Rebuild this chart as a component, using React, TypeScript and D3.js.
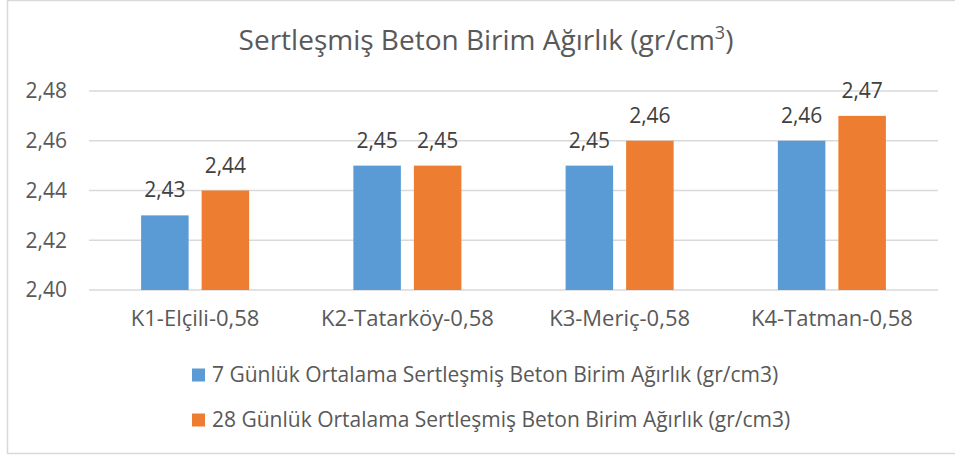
import { useEffect, useRef } from 'react'
import * as d3 from 'd3'

// Categories (mixes) and the two series
const CATEGORIES = ['K1-Elçili-0,58', 'K2-Tatarköy-0,58', 'K3-Meriç-0,58', 'K4-Tatman-0,58']
const SERIES_NAMES = [
  '7 Günlük Ortalama Sertleşmiş Beton Birim Ağırlık (gr/cm3)',
  '28 Günlük Ortalama Sertleşmiş Beton Birim Ağırlık (gr/cm3)',
]
const DAY7 = [2.43, 2.45, 2.45, 2.46]
const DAY28 = [2.44, 2.45, 2.46, 2.47]
const Y_TICKS = [2.40, 2.42, 2.44, 2.46, 2.48]

const COLORS = ['#5B9BD5', '#ED7D31']
const TEXT = '#595959'
const GRID = '#D9D9D9'
const FONT = '"Open Sans", "Noto Sans", sans-serif'

const fmt = (v: number) => v.toFixed(2).replace('.', ',')

const App = () => {
  const svgRef = useRef<SVGSVGElement>(null)

  useEffect(() => {
    if (!svgRef.current) return
    const svg = d3.select(svgRef.current)
    svg.selectAll('*').remove()

    const width = 955
    const height = 457
    const plot = { left: 89, right: 938, top: 91, bottom: 290 }

    // chart area border (right edge runs off the picture)
    svg.append('rect')
      .attr('x', 7.5).attr('y', 0.5)
      .attr('width', 965).attr('height', 453)
      .attr('fill', '#fff')
      .attr('stroke', GRID)
      .attr('stroke-width', 1.5)

    // title
    const title = svg.append('text')
      .attr('x', 486).attr('y', 50)
      .attr('text-anchor', 'middle')
      .attr('font-family', FONT)
      .attr('font-size', 28)
      .attr('fill', TEXT)
    title.append('tspan').text('Sertleşmiş Beton Birim Ağırlık (gr/cm')
    title.append('tspan').attr('font-size', 18).attr('dy', -11).text('3')
    title.append('tspan').attr('dy', 11).text(')')

    const y = d3.scaleLinear().domain([2.40, 2.48]).range([plot.bottom, plot.top])
    const x0 = d3.scaleBand<string>()
      .domain(CATEGORIES)
      .range([plot.left, plot.right])
      .paddingInner(0.491)
      .paddingOuter(0.2455)
    const x1 = d3.scaleBand<number>()
      .domain([0, 1])
      .range([0, x0.bandwidth()])
      .paddingInner(0.215)

    // gridlines + y tick labels
    const g = svg.append('g')
    g.selectAll('.grid')
      .data(Y_TICKS)
      .enter()
      .append('line')
      .attr('x1', plot.left).attr('x2', plot.right)
      .attr('y1', d => y(d)).attr('y2', d => y(d))
      .attr('stroke', GRID)
      .attr('stroke-width', 1.5)

    g.selectAll('.ytick')
      .data(Y_TICKS)
      .enter()
      .append('text')
      .attr('x', 67)
      .attr('y', d => y(d))
      .attr('dy', '0.35em')
      .attr('text-anchor', 'end')
      .attr('font-family', FONT)
      .attr('font-size', 21)
      .attr('fill', TEXT)
      .text(d => fmt(d))

    // bars
    const series = [DAY7, DAY28]
    series.forEach((vals, si) => {
      const bars = svg.append('g')
      bars.selectAll('rect')
        .data(vals)
        .enter()
        .append('rect')
        .attr('x', (d, i) => (x0(CATEGORIES[i]) || 0) + (x1(si) || 0))
        .attr('y', d => y(d))
        .attr('width', x1.bandwidth())
        .attr('height', d => y(2.40) - y(d))
        .attr('fill', COLORS[si])

      bars.selectAll('text')
        .data(vals)
        .enter()
        .append('text')
        .attr('x', (d, i) => (x0(CATEGORIES[i]) || 0) + (x1(si) || 0) + x1.bandwidth() / 2)
        .attr('y', d => y(d) - 18)
        .attr('text-anchor', 'middle')
        .attr('font-family', FONT)
        .attr('font-size', 21)
        .attr('fill', '#404040')
        .text(d => fmt(d))
    })

    // category labels
    svg.append('g')
      .selectAll('text')
      .data(CATEGORIES)
      .enter()
      .append('text')
      .attr('x', d => (x0(d) || 0) + x0.bandwidth() / 2)
      .attr('y', 326)
      .attr('text-anchor', 'middle')
      .attr('font-family', FONT)
      .attr('font-size', 22)
      .attr('fill', TEXT)
      .text(d => d)

    // legend
    const legend = svg.append('g')
    SERIES_NAMES.forEach((name, i) => {
      const cy = 375 + i * 45
      legend.append('rect')
        .attr('x', 192).attr('y', cy - 6.5)
        .attr('width', 13).attr('height', 13)
        .attr('fill', COLORS[i])
      legend.append('text')
        .attr('x', 212).attr('y', cy)
        .attr('dy', '0.35em')
        .attr('font-family', FONT)
        .attr('font-size', 21)
        .attr('fill', TEXT)
        .text(name)
    })

    svg.attr('width', width).attr('height', height)
  }, [])

  return (
    <svg
      ref={svgRef}
      width={955}
      height={457}
      style={{ position: 'absolute', left: 0, top: 0, background: '#fff' }}
    />
  )
}

export default App
